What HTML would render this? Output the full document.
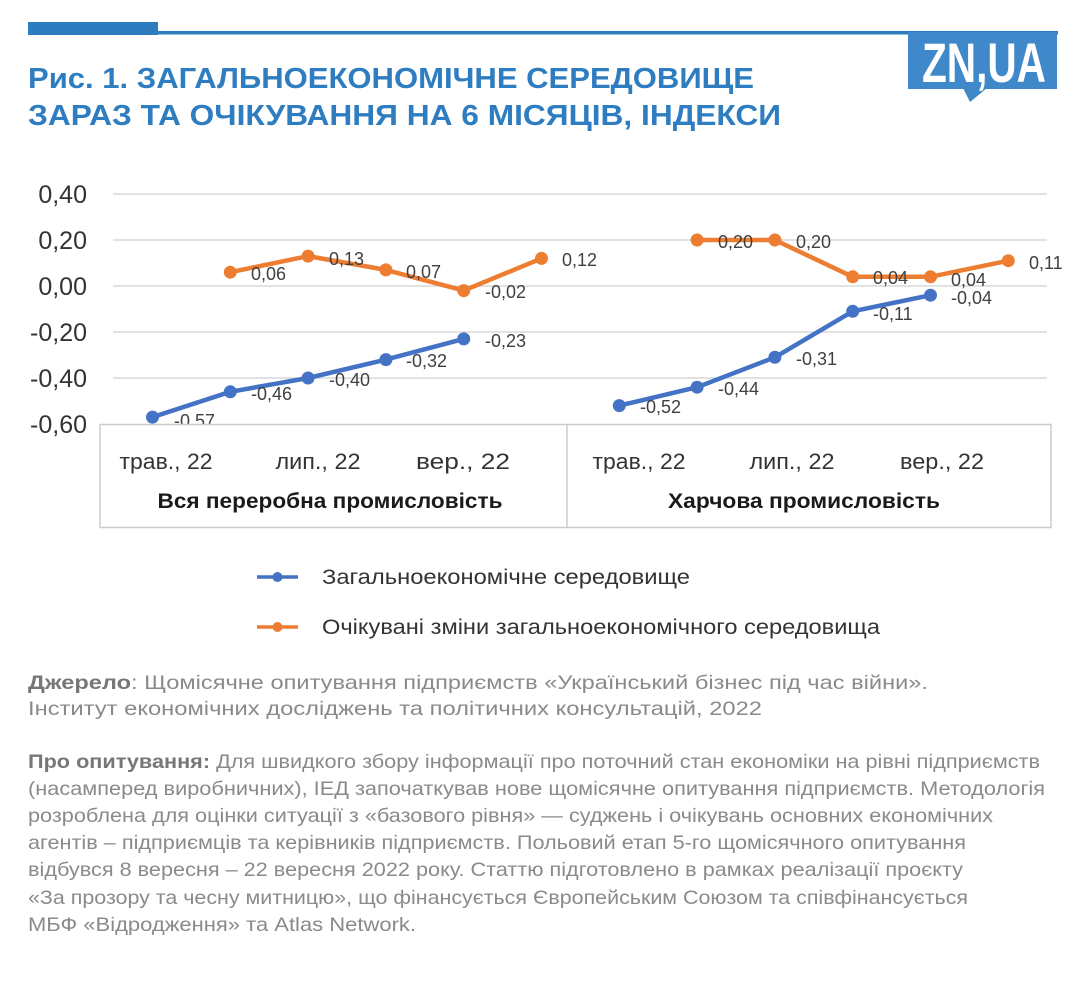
<!DOCTYPE html>
<html><head><meta charset="utf-8">
<style>
html,body{margin:0;padding:0;background:#fff;}
svg{display:block;}
</style></head>
<body>
<svg width="1086" height="997" viewBox="0 0 1086 997" xmlns="http://www.w3.org/2000/svg" font-family="Liberation Sans, Noto Sans CJK SC, sans-serif">
<rect width="1086" height="997" fill="#fff"/>
<!-- header bars -->
<rect x="28" y="22" width="130" height="13" fill="#2d7cbf"/>
<rect x="28" y="31" width="1030" height="3.5" fill="#2d7cbf"/>
<!-- logo -->
<rect x="908" y="32" width="149" height="57" fill="#3f88ca"/>
<polygon points="963,88 987,88 970,102" fill="#3f88ca"/>
<text x="922" y="82" font-size="56" font-weight="bold" fill="#fff" textLength="124" lengthAdjust="spacingAndGlyphs">ZN,UA</text>
<!-- title -->
<text x="28" y="88" font-size="29" font-weight="bold" fill="#2e7dc0" textLength="726" lengthAdjust="spacingAndGlyphs">Рис. 1. ЗАГАЛЬНОЕКОНОМІЧНЕ СЕРЕДОВИЩЕ</text>
<text x="28" y="125" font-size="29" font-weight="bold" fill="#2e7dc0" textLength="753" lengthAdjust="spacingAndGlyphs">ЗАРАЗ ТА ОЧІКУВАННЯ НА 6 МІСЯЦІВ, ІНДЕКСИ</text>

<!-- gridlines -->
<g stroke="#d9d9d9" stroke-width="1.5">
<line x1="113" y1="194" x2="1047" y2="194"/>
<line x1="113" y1="240" x2="1047" y2="240"/>
<line x1="113" y1="286" x2="1047" y2="286"/>
<line x1="113" y1="332" x2="1047" y2="332"/>
<line x1="113" y1="378" x2="1047" y2="378"/>
</g>
<!-- y labels -->
<g font-size="25" fill="#333" text-anchor="end">
<text x="87" y="203">0,40</text>
<text x="87" y="249">0,20</text>
<text x="87" y="295">0,00</text>
<text x="87" y="341">-0,20</text>
<text x="87" y="387">-0,40</text>
<text x="87" y="433">-0,60</text>
</g>

<!-- series lines -->
<g fill="none" stroke-width="4.5" stroke-linejoin="round" stroke-linecap="round">
<polyline stroke="#4472C4" points="152.5,417.1 230.3,391.8 308.1,378 385.9,359.6 463.7,338.9"/>
<polyline stroke="#ED7D31" points="230.3,272.2 308.1,256.1 385.9,269.9 463.7,290.6 541.5,258.4"/>
<polyline stroke="#4472C4" points="619.3,405.6 697.1,387.2 774.9,357.3 852.7,311.3 930.5,295.2"/>
<polyline stroke="#ED7D31" points="697.1,240 774.9,240 852.7,276.8 930.5,276.8 1008.3,260.7"/>
</g>
<g fill="#4472C4">
<circle cx="152.5" cy="417.1" r="6.5"/><circle cx="230.3" cy="391.8" r="6.5"/><circle cx="308.1" cy="378" r="6.5"/><circle cx="385.9" cy="359.6" r="6.5"/><circle cx="463.7" cy="338.9" r="6.5"/>
<circle cx="619.3" cy="405.6" r="6.5"/><circle cx="697.1" cy="387.2" r="6.5"/><circle cx="774.9" cy="357.3" r="6.5"/><circle cx="852.7" cy="311.3" r="6.5"/><circle cx="930.5" cy="295.2" r="6.5"/>
</g>
<g fill="#ED7D31">
<circle cx="230.3" cy="272.2" r="6.5"/><circle cx="308.1" cy="256.1" r="6.5"/><circle cx="385.9" cy="269.9" r="6.5"/><circle cx="463.7" cy="290.6" r="6.5"/><circle cx="541.5" cy="258.4" r="6.5"/>
<circle cx="697.1" cy="240" r="6.5"/><circle cx="774.9" cy="240" r="6.5"/><circle cx="852.7" cy="276.8" r="6.5"/><circle cx="930.5" cy="276.8" r="6.5"/><circle cx="1008.3" cy="260.7" r="6.5"/>
</g>
<!-- data labels -->
<g font-size="18" fill="#404040">
<text x="174" y="427">-0,57</text>
<text x="251" y="400">-0,46</text>
<text x="329" y="386">-0,40</text>
<text x="406" y="367">-0,32</text>
<text x="485" y="347">-0,23</text>
<text x="251" y="280">0,06</text>
<text x="329" y="265">0,13</text>
<text x="406" y="278">0,07</text>
<text x="485" y="298">-0,02</text>
<text x="562" y="266">0,12</text>
<text x="640" y="413">-0,52</text>
<text x="718" y="395">-0,44</text>
<text x="796" y="365">-0,31</text>
<text x="873" y="320">-0,11</text>
<text x="951" y="304">-0,04</text>
<text x="718" y="248">0,20</text>
<text x="796" y="248">0,20</text>
<text x="873" y="284">0,04</text>
<text x="951" y="286">0,04</text>
<text x="1029" y="269">0,11</text>
</g>

<!-- category box -->
<rect x="100" y="424.5" width="951" height="103" fill="#fff" stroke="#cccccc" stroke-width="1.5"/>
<line x1="567" y1="424.5" x2="567" y2="527.5" stroke="#cccccc" stroke-width="1.5"/>
<g font-size="22" fill="#333" text-anchor="middle">
<text x="166" y="469" textLength="93" lengthAdjust="spacingAndGlyphs">трав., 22</text>
<text x="318" y="469" textLength="85" lengthAdjust="spacingAndGlyphs">лип., 22</text>
<text x="463" y="469" textLength="94" lengthAdjust="spacingAndGlyphs">вер., 22</text>
<text x="639" y="469" textLength="93" lengthAdjust="spacingAndGlyphs">трав., 22</text>
<text x="792" y="469" textLength="85" lengthAdjust="spacingAndGlyphs">лип., 22</text>
<text x="942" y="469" textLength="84" lengthAdjust="spacingAndGlyphs">вер., 22</text>
</g>
<g font-size="21" font-weight="bold" fill="#1a1a1a" text-anchor="middle">
<text x="330" y="508" textLength="345" lengthAdjust="spacingAndGlyphs">Вся переробна промисловість</text>
<text x="804" y="508" textLength="272" lengthAdjust="spacingAndGlyphs">Харчова промисловість</text>
</g>

<!-- legend -->
<line x1="257" y1="577" x2="298" y2="577" stroke="#4472C4" stroke-width="3.5"/>
<circle cx="277.5" cy="577" r="5" fill="#4472C4"/>
<text x="322" y="584" font-size="21" fill="#333" textLength="368" lengthAdjust="spacingAndGlyphs">Загальноекономічне середовище</text>
<line x1="257" y1="627" x2="298" y2="627" stroke="#ED7D31" stroke-width="3.5"/>
<circle cx="277.5" cy="627" r="5" fill="#ED7D31"/>
<text x="322" y="634" font-size="21" fill="#333" textLength="558" lengthAdjust="spacingAndGlyphs">Очікувані зміни загальноекономічного середовища</text>

<!-- source -->
<g font-size="19.5" fill="#8a8a8a">
<text x="28" y="689" textLength="900" lengthAdjust="spacingAndGlyphs"><tspan font-weight="bold" fill="#777">Джерело</tspan>: Щомісячне опитування підприємств «Український бізнес під час війни».</text>
<text x="28" y="715" textLength="734" lengthAdjust="spacingAndGlyphs">Інститут економічних досліджень та політичних консультацій, 2022</text>
<text x="28" y="768" textLength="1012" lengthAdjust="spacingAndGlyphs"><tspan font-weight="bold" fill="#777">Про опитування:</tspan> Для швидкого збору інформації про поточний стан економіки на рівні підприємств</text>
<text x="28" y="795" textLength="1017" lengthAdjust="spacingAndGlyphs">(насамперед виробничних), ІЕД  започаткував нове щомісячне опитування підприємств. Методологія</text>
<text x="28" y="822" textLength="965" lengthAdjust="spacingAndGlyphs">розроблена для оцінки ситуації з «базового рівня» — суджень і очікувань основних економічних</text>
<text x="28" y="849" textLength="938" lengthAdjust="spacingAndGlyphs">агентів – підприємців та керівників підприємств. Польовий етап 5-го щомісячного опитування</text>
<text x="28" y="876" textLength="935" lengthAdjust="spacingAndGlyphs">відбувся 8 вересня – 22 вересня 2022 року. Статтю підготовлено в рамках реалізації проєкту</text>
<text x="28" y="904" textLength="940" lengthAdjust="spacingAndGlyphs">«За прозору та чесну митницю», що фінансується Європейським Союзом та співфінансується</text>
<text x="28" y="931" textLength="388" lengthAdjust="spacingAndGlyphs">МБФ «Відродження» та Atlas Network.</text>
</g>
</svg>
</body></html>
